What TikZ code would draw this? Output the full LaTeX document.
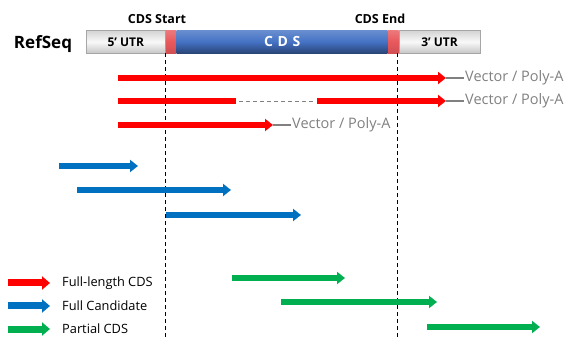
\documentclass[tikz,border=0pt]{standalone}
\usepackage{fontspec}
\setmainfont{Open Sans}
\usetikzlibrary{arrows.meta,positioning}
\definecolor{fullred}{HTML}{FF0000}
\definecolor{candblue}{HTML}{0070C0}
\definecolor{partgreen}{HTML}{00B050}
\definecolor{tailgray}{HTML}{808080}
\definecolor{cdsblue}{HTML}{4472C4}
\definecolor{markred}{HTML}{E8585C}
\begin{document}
\begin{tikzpicture}[x=1pt,y=-1pt,
    seg/.style={line width=6pt,-{Triangle[length=8pt,width=12pt]}},
    redseg/.style={seg,fullred},
    blueseg/.style={seg,candblue},
    greenseg/.style={seg,partgreen},
    utrbox/.style={draw=gray!70,line width=0.6pt,top color=gray!35,bottom color=gray!45,middle color=gray!5,
      minimum height=23pt,inner sep=0pt,font=\bfseries\fontsize{12}{14}\selectfont},
    markbox/.style={top color=markred!80,bottom color=markred!90!black,middle color=markred,
      minimum width=10.5pt,minimum height=23pt,inner sep=0pt},
    guide/.style={dashed,dash pattern=on 4pt off 3pt,line width=0.9pt},
    tail/.style={tailgray,line width=1.6pt},
    tailtext/.style={anchor=west,inner sep=1pt,text=tailgray,font=\fontsize{14.5}{16}\selectfont},
    legtext/.style={anchor=west,inner sep=0pt,font=\fontsize{12.8}{14}\selectfont}]
  \useasboundingbox (0,0) rectangle (568,339);

  % reference sequence bar
  \node[font=\bfseries\fontsize{17}{20}\selectfont] (refseq) at (43,44) {RefSeq};
  \node[utrbox,minimum width=79pt,anchor=north west] (utr5) at (86,30) {5' UTR};
  \node[markbox,right=0pt of utr5] (startmark) {};
  \node[right=0pt of startmark,minimum width=211pt,minimum height=23pt,inner sep=0pt,
    top color=cdsblue!80,bottom color=cdsblue!60!black,middle color=cdsblue,
    text=white,font=\bfseries\fontsize{14}{16}\selectfont] (cds) {C\,\,D\,\,S};
  \node[markbox,right=0pt of cds] (endmark) {};
  \node[utrbox,minimum width=81pt,right=0pt of endmark] (utr3) {3' UTR};
  \node[font=\bfseries\fontsize{12.5}{14}\selectfont] (startlbl) at (157,19) {CDS Start};
  \node[font=\bfseries\fontsize{12.5}{14}\selectfont] (endlbl) at (380,19) {CDS End};

  % CDS boundaries
  \coordinate (bottom) at (0,339);
  \draw[guide] (startmark.south west) -- (startmark.south west |- bottom);
  \draw[guide] ([xshift=-1pt]endmark.south east) -- ([xshift=-1pt]endmark.south east |- bottom);

  % full-length CDS
  \coordinate (r1s) at (118,78);  \coordinate (r1e) at (446,78);
  \coordinate (r2s) at (118,101); \coordinate (r2m) at (236,101);
  \coordinate (r2n) at (317,101); \coordinate (r2e) at (446,101);
  \coordinate (r3s) at (118,125); \coordinate (r3e) at (273,125);
  \node[tailtext] (vec1) at (464,78) {Vector / Poly-A};
  \node[tailtext] (vec2) at (464,101) {Vector / Poly-A};
  \node[tailtext] (vec3) at (291,125) {Vector / Poly-A};
  \draw[redseg] (r1s) -- (r1e);
  \draw[fullred,line width=6pt] (r2s) -- (r2m);
  \draw[tailgray,dashed,dash pattern=on 4pt off 3pt,line width=0.8pt] ([xshift=3pt]r2m) -- ([xshift=-3pt]r2n);
  \draw[redseg] (r2n) -- (r2e);
  \draw[redseg] (r3s) -- (r3e);
  \draw[tail] (r1e) -- (vec1.west);
  \draw[tail] (r2e) -- (vec2.west);
  \draw[tail] (r3e) -- (vec3.west);

  % full candidates
  \foreach \n/\xa/\xb/\y in {1/59/138/166, 2/77/231/190, 3/166/301/215} {
    \coordinate (b\n s) at (\xa,\y);
    \coordinate (b\n e) at (\xb,\y);
    \draw[blueseg] (b\n s) -- (b\n e);
  }

  % partial CDS
  \foreach \n/\xa/\xb/\y in {1/232/345/278, 2/281/437/302, 3/427/540/327} {
    \coordinate (g\n s) at (\xa,\y);
    \coordinate (g\n e) at (\xb,\y);
    \draw[greenseg] (g\n s) -- (g\n e);
  }

  % legend
  \foreach \n/\st/\txt/\y in {1/redseg/Full-length CDS/283, 2/blueseg/Full Candidate/306, 3/greenseg/Partial CDS/329} {
    \coordinate (l\n s) at (8,\y);
    \coordinate (l\n e) at (50,\y);
    \draw[\st,line width=7pt,-{Triangle[length=8pt,width=13pt]}] (l\n s) -- (l\n e);
    \node[legtext] (leg\n) at (62,\y) {\txt};
  }
\end{tikzpicture}
\end{document}
